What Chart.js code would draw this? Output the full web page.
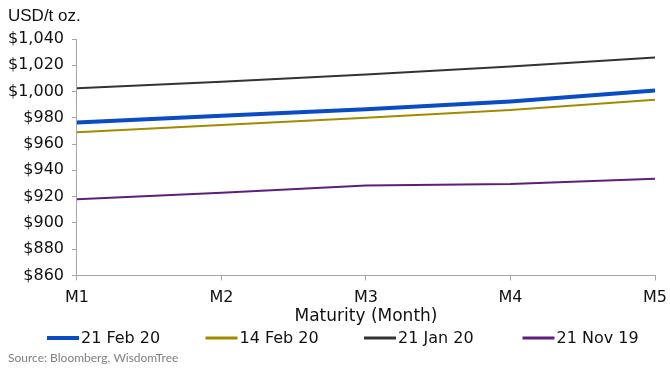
<!DOCTYPE html>
<html><head><meta charset="utf-8">
<script src="https://cdn.jsdelivr.net/npm/chart.js@4"></script>
<style>html,body{margin:0;padding:0;background:#fff}#wrap{width:670px;height:372px;position:relative}</style>
</head><body><div id="wrap"><canvas id="c" width="670" height="372"></canvas></div>
<script>
const categories = ["M1","M2","M3","M4","M5"];
const feb21 = [976.5, 981.5, 986.5, 992.5, 1000.8];
const feb14 = [969, 974.5, 980, 986, 993.8];
const jan21 = [1002.5, 1007.5, 1013, 1019, 1026];
const nov21 = [918, 923, 928.5, 929.5, 933.5];
const seriesNames = ["21 Feb 20","14 Feb 20","21 Jan 20","21 Nov 19"];
const yMin = 860, yMax = 1040, yStep = 20;
const sourceText = "Source: Bloomberg, WisdomTree";
const unitText = "USD/t oz.";

const FONT = "'DejaVu Sans', sans-serif";
const colors = ["#0a4cc4","#a38b00","#333333","#5e1f7c"];
const widths = [4, 2, 2, 2];
const data = [feb21, feb14, jan21, nov21];

const customLegend = {
  id: 'customLegend',
  afterDraw(chart) {
    const ctx = chart.ctx;
    ctx.save();
    ctx.textBaseline = 'middle';
    ctx.textAlign = 'left';
    ctx.fillStyle = '#111';
    ctx.font = "17px 'Liberation Sans', Arial, sans-serif";
    ctx.fillText(unitText, 8, 16);
    const y = 338;
    chart.data.datasets.forEach((ds, i) => {
      const x0 = 47 + i * 158.5;
      ctx.strokeStyle = ds.borderColor;
      ctx.lineWidth = Math.max(ds.borderWidth, 3);
      ctx.beginPath(); ctx.moveTo(x0, y); ctx.lineTo(x0 + 32, y); ctx.stroke();
      ctx.fillStyle = '#111';
      ctx.font = "16px " + FONT;
      ctx.fillText(ds.label, x0 + 34, y + 1);
    });
    ctx.fillStyle = '#7f7f7f';
    ctx.font = "12px Lato, sans-serif";
    ctx.fillText(sourceText, 8, 358);
    ctx.restore();
  }
};

new Chart(document.getElementById('c'), {
  type: 'line',
  data: {
    labels: categories,
    datasets: data.map((d,i)=>({
      label: seriesNames[i], data: d, borderColor: colors[i], backgroundColor: colors[i],
      borderWidth: widths[i], pointRadius: 0, tension: 0, fill: false
    }))
  },
  plugins: [customLegend],
  options: {
    responsive: false, animation: false,
    layout: { padding: { left: 0, right: 15, top: 39, bottom: 45 } },
    plugins: {
      title: { display: false },
      legend: { display: false },
      tooltip: { enabled: false }
    },
    scales: {
      x: {
        afterFit: s => { s.paddingRight = 0; s.paddingLeft = 0; },
        grid: { drawOnChartArea: false, color: '#a6a6a6', tickLength: 5 },
        border: { color: '#a6a6a6', width: 1 },
        ticks: { color: '#111', font: { family: FONT, size: 16 }, padding: 8 },
        title: { display: true, text: 'Maturity (Month)', color: '#111', font: { family: FONT, size: 17 }, padding: { top: -9, bottom: 0 } }
      },
      y: {
        min: yMin, max: yMax,
        afterFit: s => { s.paddingTop = 0; s.paddingBottom = 0; },
        grid: { drawOnChartArea: false, color: '#a6a6a6', tickLength: 5 },
        border: { color: '#a6a6a6', width: 1 },
        ticks: { stepSize: yStep, color: '#111', font: { family: FONT, size: 16 }, padding: 8,
          callback: v => '$' + v.toLocaleString('en-US') }
      }
    }
  }
});
</script></body></html>
